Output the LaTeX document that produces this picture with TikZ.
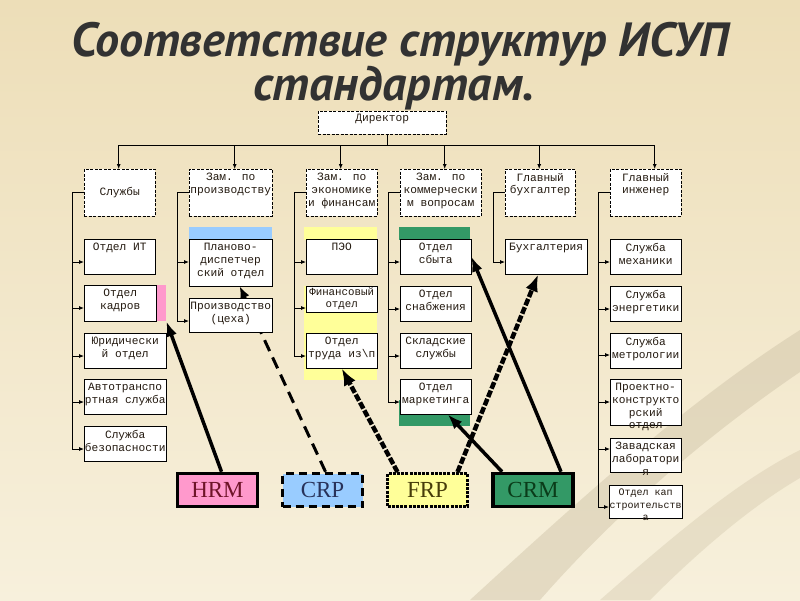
\documentclass[tikz,border=0pt]{standalone}
\usepackage{fontspec}
\setmainfont{Liberation Serif}
\newfontfamily\boxfont{Liberation Mono}
\newfontfamily\titlefont{PT Sans}
\usetikzlibrary{arrows.meta,calc,positioning}

\definecolor{bgtop}{RGB}{237,222,184}
\definecolor{bgbot}{RGB}{247,240,220}
\definecolor{swoosh}{RGB}{205,193,165}
\definecolor{titlegray}{RGB}{50,50,50}
\definecolor{boxtext}{RGB}{35,25,15}
\definecolor{hrmpink}{RGB}{255,153,204}
\definecolor{crpblue}{RGB}{153,204,255}
\definecolor{frpyellow}{RGB}{255,255,153}
\definecolor{crmgreen}{RGB}{51,153,102}
\definecolor{hrmtext}{RGB}{110,20,40}
\definecolor{crptext}{RGB}{40,50,90}
\definecolor{frptext}{RGB}{70,60,10}
\definecolor{crmtext}{RGB}{10,60,25}

\pgfdeclarelayer{back}
\pgfdeclarelayer{mid}
\pgfsetlayers{back,mid,main}

\tikzset{
  ttl/.style={font=\titlefont\bfseries\itshape\fontsize{48}{50}\selectfont, text=titlegray, inner sep=0pt, anchor=base},
  head/.style={draw, dash pattern=on 3pt off 1.5pt, fill=white, anchor=north west, inner sep=0pt},
  unit/.style={draw, fill=white, anchor=north west, inner sep=0pt},
  lbl/.style={anchor=north, align=center, inner sep=4pt, text=boxtext, font=\boxfont\fontsize{11.2}{12.8}\selectfont},
  spine/.style={line width=0.8pt},
  conn/.style={line width=0.8pt, -{Latex[length=5pt,width=4pt]}},
  sys/.style={draw, line width=3.5pt, minimum width=80pt, minimum height=33pt, inner sep=0pt, font=\fontsize{23}{25}\selectfont},
  solidlink/.style={line width=3.5pt, -{Latex[length=15pt,width=11pt]}},
  crplink/.style={line width=3pt, dash pattern=on 12pt off 7pt, -{Latex[length=12pt,width=10pt]}},
  frplink/.style={line width=4.5pt, dash pattern=on 7pt off 2pt, -{Latex[length=17pt,width=13pt]}}
}

\begin{document}
\begin{tikzpicture}[x=1pt, y=-1pt]
\begin{pgfonlayer}{back}
  \shade[top color=bgtop, bottom color=bgbot] (0,0) rectangle (800,600);
  \fill[swoosh, opacity=.45] (470,600) .. controls (590,490) and (690,400) .. (800,330) -- (800,372) .. controls (700,440) and (610,520) .. (540,600) -- cycle;
  \fill[swoosh, opacity=.35] (600,600) .. controls (680,530) and (740,480) .. (800,450) -- (800,478) .. controls (745,510) and (690,560) .. (650,600) -- cycle;
\end{pgfonlayer}

% title
\node[ttl] (t1) at (400,56) {Соответствие структур ИСУП};
\node[ttl] (t2) at (394,100) {стандартам.};

% director and deputies
\node[head, minimum width=128, minimum height=23, label={[lbl, inner sep=2.5pt]north:Директор}] (dir) at (318,111) {};
\node[head, minimum width=71, minimum height=47, label={[lbl, anchor=center]center:Службы}] (sl) at (84,169) {};
\foreach \nm/\xa/\w/\txt in {zp/189/83/{Зам. по\\производству}, ze/306/71/{Зам. по\\экономике\\и финансам}, zk/400/81/{Зам. по\\коммерчески\\м вопросам}, gb/505/70/{Главный\\бухгалтер}, gi/610/71/{Главный\\инженер}}
  \node[head, minimum width=\w, minimum height=47, label={[lbl]north:\txt}] (\nm) at (\xa,169) {};

\coordinate (bus) at (387,145);
\draw[spine] (dir.south -| bus) -- (bus);
\foreach \nm/\dx in {sl/-1, zp/4, ze/-1, zk/4, gb/-1, gi/9}{
  \coordinate (\nm-in) at ([xshift=\dx pt]\nm.north);
  \draw[conn] (\nm-in |- bus) -- (\nm-in);
}
\draw[spine] (sl-in |- bus) -- (gi-in |- bus);

% colour bands behind the units
\fill[crpblue] (189,227) rectangle (272,240);
\fill[frpyellow] (304,227) rectangle (377,240);
\fill[frpyellow] (304,286) rectangle (377,380);
\fill[crmgreen] (399,227) rectangle (470,240);
\fill[crmgreen] (399,400) rectangle (470,426);
\node[fill=hrmpink, inner sep=0pt, minimum width=11, minimum height=36, anchor=north west] (kadrbar) at (155,285) {};

% column 1
\foreach \nm/\ya/\w/\h/\txt in {it/239/71/35/{Отдел ИТ}, kadr/285/72/36/{Отдел\\кадров}, jur/333/82/35/{Юридически\\й отдел}, avto/379/82/35/{Автотранспо\\ртная служба}, bez/426/82/35/{Служба\\безопасности}}{
  \node[unit, minimum width=\w, minimum height=\h, label={[lbl]north:\txt}] (\nm) at (84,\ya) {};
  \draw[conn] ($(\nm.north west)+(-12,23)$) -- ($(\nm.north west)+(0,23)$);
}
\draw[spine] (sl.west) -| ($(bez.north west)+(-12,23)$);

% column 2
\foreach \nm/\ya/\h/\txt in {plan/239/47/{Планово-\\диспетчер\\ский отдел}, proizv/298/34/{Производство\\(цеха)}}{
  \node[unit, minimum width=83, minimum height=\h, label={[lbl]north:\txt}] (\nm) at (189,\ya) {};
  \draw[conn] ($(\nm.north west)+(-12,23)$) -- ($(\nm.north west)+(0,23)$);
}
\draw[spine] (zp.west) -| ($(proizv.north west)+(-12,23)$);

% column 3
\foreach \nm/\ya/\txt in {peo/239/{ПЭО}, trud/333/{Отдел\\труда из\textbackslash п}}{
  \node[unit, minimum width=71, minimum height=35, label={[lbl]north:\txt}] (\nm) at (306,\ya) {};
  \draw[conn] ($(\nm.north west)+(-12,23)$) -- ($(\nm.north west)+(0,23)$);
}
\node[unit, minimum width=71, minimum height=26, label={[lbl, inner sep=2pt, font=\boxfont\fontsize{10.8}{11.5}\selectfont]north:Финансовый\\отдел}] (fin) at (306,286) {};
\draw[conn] ($(fin.north west)+(-12,22)$) -- ($(fin.north west)+(0,22)$);
\draw[spine] (ze.west) -| ($(trud.north west)+(-12,23)$);

% column 4
\foreach \nm/\ya/\txt in {sbyt/239/{Отдел\\сбыта}, snab/286/{Отдел\\снабжения}, sklad/333/{Складские\\службы}, mark/379/{Отдел\\маркетинга}}{
  \node[unit, minimum width=71, minimum height=35, label={[lbl]north:\txt}] (\nm) at (400,\ya) {};
  \draw[conn] ($(\nm.north west)+(-12,23)$) -- ($(\nm.north west)+(0,23)$);
}
\draw[spine] (zk.west) -| ($(mark.north west)+(-12,23)$);

% column 5
\node[unit, minimum width=82, minimum height=35, label={[lbl]north:Бухгалтерия}] (buh) at (505,239) {};
\draw[conn] (gb.west) -| ($(buh.north west)+(-12,23)$) -- ($(buh.north west)+(0,23)$);

% column 6
\foreach \nm/\ya/\h/\dy/\txt in {meh/239/35/23/{Служба\\механики}, energ/286/35/23/{Служба\\энергетики}, metr/333/35/22/{Служба\\метрологии}, proekt/379/46/23/{Проектно-\\конструкто\\рский\\отдел}, lab/438/34/11/{Завадская\\лаборатори\\я}}{
  \node[unit, minimum width=71, minimum height=\h, label={[lbl]north:\txt}] (\nm) at (610,\ya) {};
  \draw[conn] ($(\nm.north west)+(-12,\dy)$) -- ($(\nm.north west)+(0,\dy)$);
}
\node[unit, minimum width=73, minimum height=33, label={[lbl, font=\boxfont\fontsize{10}{12.5}\selectfont]north:Отдел кап\\строительств\\а}] (kap) at (609,485) {};
\draw[conn] ($(kap.north west)+(-11,22)$) -- ($(kap.north west)+(0,22)$);
\draw[spine] (gi.west) -| ($(kap.north west)+(-11,22)$);

% systems
\node[sys, fill=hrmpink, text=hrmtext] (hrm) at (217.5,490) {HRM};
\node[sys, fill=crpblue, text=crptext, dash pattern=on 8pt off 5pt] (crp) at (322.5,490) {CRP};
\node[sys, fill=frpyellow, text=frptext, line width=3pt, dash pattern=on 3pt off 1.2pt] (frp) at (427.5,490) {FRP};
\node[sys, fill=crmgreen, text=crmtext] (crm) at (533,490) {CRM};

% links from the systems
\begin{pgfonlayer}{mid}
  \draw[crplink] ([xshift=3pt]crp.north) -- ([xshift=9pt]plan.south);
\end{pgfonlayer}
\draw[solidlink] ([xshift=4pt]hrm.north) -- (kadrbar.south east);
\draw[frplink] ([xshift=-30pt]frp.north) -- (trud.south);
\draw[frplink] ([xshift=30pt]frp.north) -- ([xshift=-8pt]buh.south);
\draw[solidlink] ([xshift=-31pt]crm.north) -- ([xshift=12pt]mark.south);
\draw[solidlink] ([xshift=28pt]crm.north) -- (sbyt.east);
\end{tikzpicture}
\end{document}
